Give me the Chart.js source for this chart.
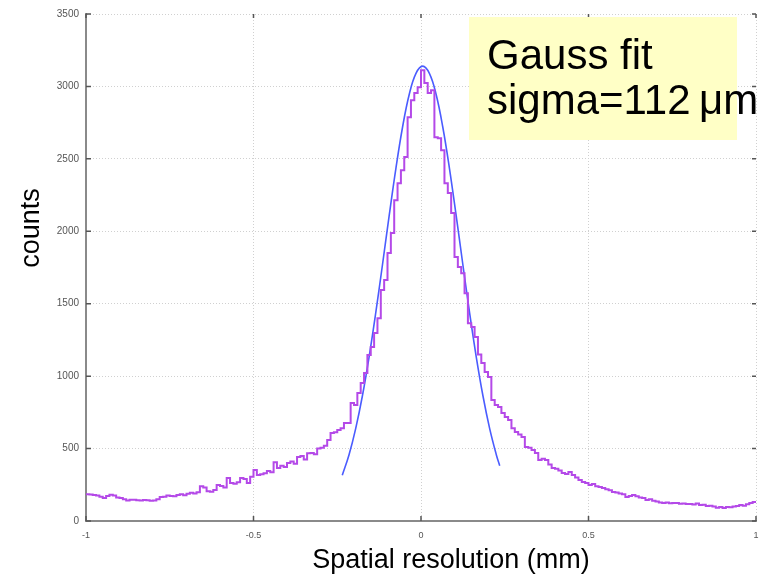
<!DOCTYPE html>
<html>
<head>
<meta charset="utf-8">
<script src="https://cdn.jsdelivr.net/npm/chart.js@4/dist/chart.umd.min.js"></script>
<style>
  body { margin: 0; background: #fff; }
  canvas { display: block; }
</style>
</head>
<body>
<canvas id="resChart" width="761" height="575"></canvas>
<script>
// * histogram, 200 bins of 0.01 mm from -1 to 1
const binStart = -1;
const binWidth = 0.01;
const counts = [
  185, 183, 180, 176, 168, 158, 172, 182, 176, 162,
  158, 150, 142, 147, 146, 143, 141, 145, 144, 139,
  142, 150, 165, 168, 176, 172, 170, 180, 184, 178,
  188, 195, 190, 198, 240, 232, 205, 202, 214, 248,
  242, 232, 296, 262, 258, 268, 297, 290, 262, 305,
  352, 318, 322, 330, 345, 336, 405, 366, 382, 372,
  400, 410, 395, 442, 448, 425, 468, 470, 460, 500,
  505, 520, 560, 607, 612, 628, 640, 676, 676, 814,
  800, 883, 952, 1021, 1146, 1201, 1297, 1400, 1594, 1663,
  1850, 1988, 2215, 2332, 2422, 2512, 2788, 2905, 2954, 2995,
  3112, 3023, 2954, 2974, 2650, 2643, 2560, 2332, 2264, 2126,
  1822, 1753, 1711, 1573, 1366, 1339, 1270, 1150, 1090, 1028,
  994, 835, 800, 787, 745, 718, 697, 640, 614, 598,
  580, 511, 505, 490, 470, 421, 430, 421, 390, 366,
  360, 348, 331, 325, 338, 318, 300, 283, 270, 262,
  248, 255, 240, 235, 228, 220, 212, 200, 196, 190,
  185, 166, 172, 179, 170, 162, 158, 145, 150, 140,
  135, 128, 124, 127, 122, 125, 124, 119, 121, 117,
  118, 114, 120, 110, 112, 104, 106, 100, 92, 96,
  90, 97, 95, 100, 104, 110, 106, 115, 124, 131,
];

// * gauss fit curve
const fitX = [
  -0.235, -0.215, -0.195, -0.175, -0.155, -0.135, -0.115, -0.095, -0.075, -0.055, -0.035, -0.015,
  0.005, 0.025, 0.045, 0.065, 0.085, 0.105, 0.125, 0.145, 0.165, 0.185, 0.205, 0.225, 0.235,
];
const fitY = [
  316, 456, 638, 863, 1132, 1438, 1769, 2108, 2433, 2720, 2946, 3090,
  3140, 3090, 2946, 2720, 2433, 2108, 1769, 1438, 1132, 863, 638, 456, 381,
];

const xTicks = [-1, -0.5, 0, 0.5, 1];
const yTicks = [0, 500, 1000, 1500, 2000, 2500, 3000, 3500];

const xTitle = "Spatial resolution (mm)";
const yTitle = "counts";
const noteLines = ["Gauss fit", "sigma=112\u2009μm"];

// ? step line points at bin edges
const histPoints = counts.map((c, i) => ({ x: binStart + i * binWidth, y: c }));
histPoints.push({ x: binStart + counts.length * binWidth, y: counts[counts.length - 1] });
const fitPoints = fitX.map((x, i) => ({ x: x, y: fitY[i] }));

const fontName = "'Liberation Sans', Arial, sans-serif";

// ? inward ticks, mirrored ticks, axis titles and the note box
const extras = {
  id: "extras",
  afterDraw(chart) {
    const ctx = chart.ctx;
    const a = chart.chartArea;
    const xs = chart.scales.x;
    const ys = chart.scales.y;
    ctx.save();
    ctx.strokeStyle = "#555";
    ctx.lineWidth = 1.5;
    ctx.beginPath();
    xTicks.forEach((t) => {
      const px = xs.getPixelForValue(t);
      ctx.moveTo(px, a.bottom);
      ctx.lineTo(px, a.bottom - 5);
      ctx.moveTo(px, a.top);
      ctx.lineTo(px, a.top + 4);
    });
    yTicks.forEach((t) => {
      const py = ys.getPixelForValue(t);
      ctx.moveTo(a.left, py);
      ctx.lineTo(a.left + 5, py);
      ctx.moveTo(a.right, py);
      ctx.lineTo(a.right - 4, py);
    });
    ctx.stroke();

    // note box
    ctx.fillStyle = "#ffffc6";
    ctx.fillRect(469, 17, 268, 123);
    ctx.fillStyle = "#000";
    ctx.font = "42px " + fontName;
    ctx.textAlign = "left";
    ctx.textBaseline = "alphabetic";
    ctx.fillText(noteLines[0], 487, 69);
    ctx.fillText(noteLines[1], 487, 114);

    // axis titles
    ctx.font = "27px " + fontName;
    ctx.textAlign = "center";
    ctx.fillText(xTitle, 451, 568);
    ctx.translate(39, 228);
    ctx.rotate(-Math.PI / 2);
    ctx.fillText(yTitle, 0, 0);
    ctx.restore();
  },
};

const plainLabel = (v) => String(v);

const resCanvas = document.getElementById("resChart").getContext("2d");
const resChart = new Chart(resCanvas, {
  type: "line",
  data: {
    datasets: [
      {
        data: histPoints,
        borderColor: "#b449e8",
        borderWidth: 2,
        stepped: true,
        pointRadius: 0,
        fill: false,
      },
      {
        data: fitPoints,
        borderColor: "#4a5cff",
        borderWidth: 1.6,
        tension: 0.4,
        pointRadius: 0,
        fill: false,
      },
    ],
  },
  options: {
    responsive: false,
    animation: false,
    devicePixelRatio: 1,
    layout: { padding: { left: 0, top: 14, right: 5, bottom: 0 } },
    plugins: { legend: { display: false }, tooltip: { enabled: false } },
    scales: {
      x: {
        type: "linear",
        min: -1,
        max: 1,
        afterBuildTicks: (s) => { s.ticks = xTicks.map((v) => ({ value: v })); },
        afterFit: (s) => { s.height = 54; s.paddingLeft = 0; s.paddingRight = 0; },
        grid: { color: "#d0d0d0", lineWidth: 1, drawTicks: false },
        border: { display: true, color: "#8a8a8a", width: 2, dash: [1, 2] },
        ticks: { color: "#555", font: { size: 9, family: fontName }, padding: 9, maxRotation: 0, callback: plainLabel },
      },
      y: {
        min: 0,
        max: 3500,
        afterBuildTicks: (s) => { s.ticks = yTicks.map((v) => ({ value: v })); },
        afterFit: (s) => { s.width = 86; s.paddingTop = 0; s.paddingBottom = 0; },
        grid: { color: "#d0d0d0", lineWidth: 1, drawTicks: false },
        border: { display: true, color: "#8a8a8a", width: 2, dash: [1, 2] },
        ticks: { color: "#555", font: { size: 10, family: fontName }, padding: 7, callback: plainLabel },
      },
    },
  },
  plugins: [extras],
});
</script>
</body>
</html>
